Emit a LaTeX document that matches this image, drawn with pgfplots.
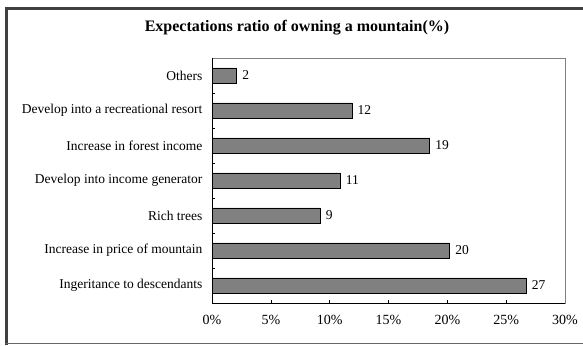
\documentclass[border=0pt]{standalone}
\usepackage{pgfplots}
\pgfplotsset{compat=1.18}
\usepackage{fontspec}
\setmainfont{Liberation Serif}
\begin{document}
\begin{tikzpicture}[x=1pt,y=1pt]
\useasboundingbox (0,0) rectangle (583,345);
% outer frame
\draw[line width=3pt, black!75] (6,0.5) -- (6,336) -- (590,336);
\draw[line width=1.2pt, black!60] (5,1.2) -- (590,1.2);
\node[font=\bfseries\fontsize{16}{18}\selectfont] at (297,317) {Expectations ratio of owning a mountain(\%)};
\begin{axis}[
  at={(212pt,42pt)}, anchor=south west,
  width=353pt, height=245pt, scale only axis,
  xbar, bar width=0.43,
  xmin=0, xmax=30, ymin=-0.5, ymax=6.5,
  xtick={0,5,...,30},
  xticklabels={0\%,5\%,10\%,15\%,20\%,25\%,30\%},
  xticklabel style={yshift=-9pt, font=\fontsize{14}{16}\selectfont},
  ytick={0,...,6},
  yticklabels={Ingeritance to descendants,Increase in price of mountain,Rich trees,Develop into income generator,Increase in forest income,Develop into a recreational resort,Others},
  minor ytick={0.5,1.5,...,5.5},
  major tick length=0pt,
  minor tick length=3pt,
  extra x ticks={5,10,15,20,25},
  extra x tick labels={},
  extra x tick style={major tick length=3pt, xtick pos=bottom},
  tick align=inside,
  ytick pos=left,
  tick style={black, line width=0.5pt},
  axis line style={black!50, line width=0.6pt},
  yticklabel style={xshift=-6pt, font=\fontsize{13.5}{15}\selectfont},
  nodes near coords,
  point meta=explicit symbolic,
  every node near coord/.append style={font=\fontsize{13.5}{15}\selectfont, black, anchor=west, xshift=2pt},
]
\addplot[fill=black!50, draw=black, line width=0.7pt] table[meta=lbl] {
x y lbl
26.7 0 27
20.2 1 20
9.2 2 9
10.9 3 11
18.5 4 19
11.9 5 12
2.1 6 2
};
\draw[black, line width=0.8pt] (rel axis cs:0,1) -- (rel axis cs:0,0) -- (rel axis cs:1,0);
\end{axis}
\end{tikzpicture}
\end{document}
